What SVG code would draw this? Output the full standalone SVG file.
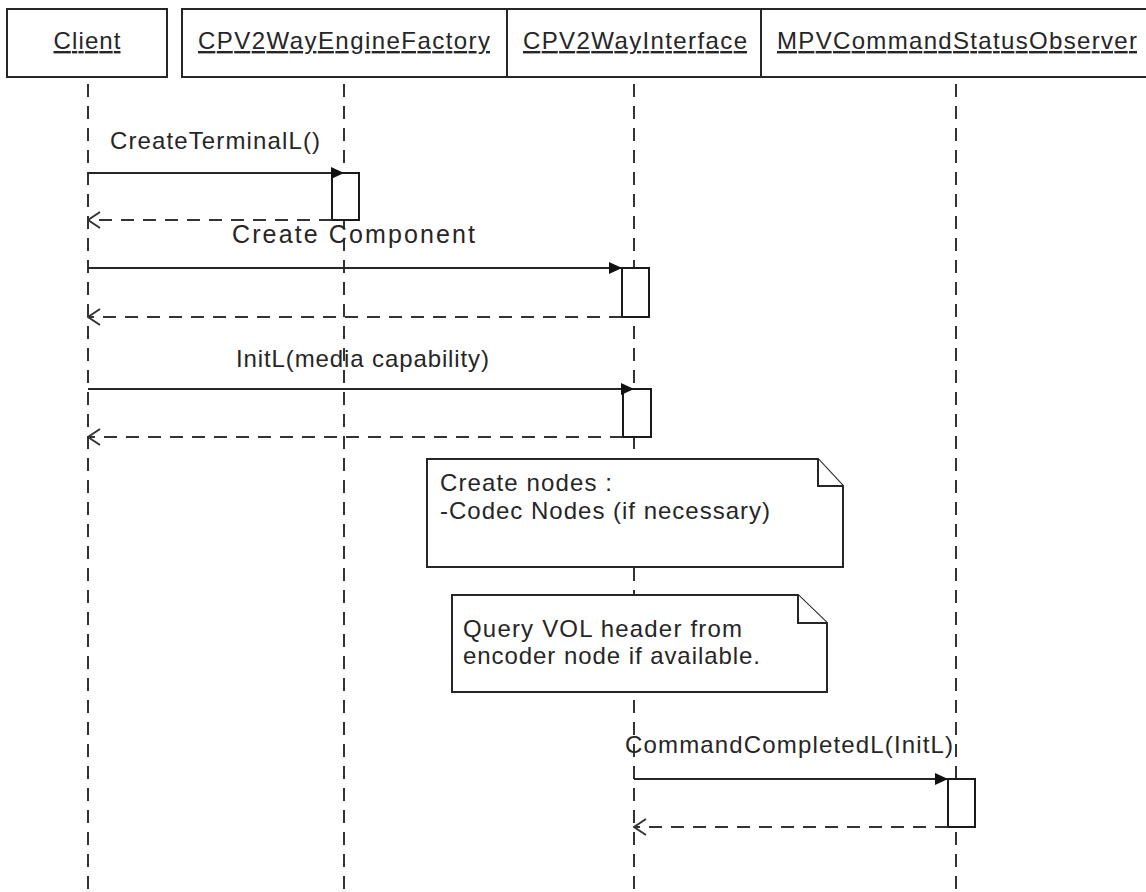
<svg xmlns="http://www.w3.org/2000/svg" width="1146" height="892" viewBox="0 0 1146 892">
<style>
text{font-family:"Liberation Sans",Arial,sans-serif;font-size:24px;fill:#262626}
.hdr{text-decoration:underline}
.box{fill:#fff;stroke:#262626;stroke-width:2}
.life{stroke:#333;stroke-width:2;stroke-dasharray:13 9;fill:none}
.msg{stroke:#262626;stroke-width:2;fill:none}
.ret{stroke:#333;stroke-width:2;stroke-dasharray:13 9;fill:none}
.act{fill:#fff;stroke:#1a1a1a;stroke-width:2}
.note{fill:#fff;stroke:#262626;stroke-width:2}
</style>
<defs>
<marker id="filled" viewBox="0 0 13 12" refX="13" refY="6" markerWidth="13" markerHeight="12" markerUnits="userSpaceOnUse" orient="auto">
<path d="M0,0 L13,6 L0,12 Z" fill="#111"/>
</marker>
<marker id="open" viewBox="0 0 14 18" refX="13" refY="9" markerWidth="14" markerHeight="18" markerUnits="userSpaceOnUse" orient="auto">
<path d="M1,1 L13,9 L1,17" fill="none" stroke="#333" stroke-width="2"/>
</marker>
</defs>
<rect width="1146" height="892" fill="#fff"/>

<g id="lifelines">
<line class="life" x1="88" y1="84" x2="88" y2="892"/>
<line class="life" x1="344" y1="84" x2="344" y2="892"/>
<line class="life" x1="634" y1="84" x2="634" y2="892"/>
<line class="life" x1="956" y1="84" x2="956" y2="892"/>
</g>

<g id="Client">
<rect class="box" x="7" y="9" width="160" height="68"/>
<text class="hdr" x="87" y="49" text-anchor="middle" textLength="67" lengthAdjust="spacing">Client</text>
</g>
<g id="CPV2WayEngineFactory">
<rect class="box" x="182" y="9" width="325" height="68"/>
<text class="hdr" x="344" y="49" text-anchor="middle" textLength="292" lengthAdjust="spacing">CPV2WayEngineFactory</text>
</g>
<g id="CPV2WayInterface">
<rect class="box" x="507" y="9" width="254" height="68"/>
<text class="hdr" x="635" y="49" text-anchor="middle" textLength="224" lengthAdjust="spacing">CPV2WayInterface</text>
</g>
<g id="MPVCommandStatusObserver">
<rect class="box" x="761" y="9" width="400" height="68"/>
<text class="hdr" x="957" y="49" text-anchor="middle" textLength="360" lengthAdjust="spacing">MPVCommandStatusObserver</text>
</g>

<g id="note1">
<path class="note" d="M427,459 H818 L843,486 V567 H427 Z"/>
<path class="note" d="M818,459 V486 H843" fill="none"/>
<text x="440" y="491" textLength="172" lengthAdjust="spacing">Create nodes :</text>
<text x="440" y="519" textLength="330" lengthAdjust="spacing">-Codec Nodes (if necessary)</text>
</g>
<g id="note2">
<path class="note" d="M452,595 H798 L827,623 V692 H452 Z"/>
<path class="note" d="M798,595 V623 H827" fill="none"/>
<text x="463" y="637" textLength="279" lengthAdjust="spacing">Query VOL header from</text>
<text x="463" y="664" textLength="297" lengthAdjust="spacing">encoder node if available.</text>
</g>

<g id="activations">
<rect class="act" x="332" y="173" width="27" height="47"/>
<rect class="act" x="622" y="268" width="27" height="49"/>
<rect class="act" x="623" y="389" width="28" height="48"/>
<rect class="act" x="948" y="779" width="27" height="48"/>
</g>

<g id="connectors">
<line class="msg" x1="88" y1="173" x2="344" y2="173" marker-end="url(#filled)"/>
<line class="ret" x1="332" y1="220" x2="88" y2="220" marker-end="url(#open)"/>
<line class="msg" x1="88" y1="268" x2="622" y2="268" marker-end="url(#filled)"/>
<line class="ret" x1="622" y1="317" x2="88" y2="317" marker-end="url(#open)"/>
<line class="msg" x1="88" y1="389" x2="634" y2="389" marker-end="url(#filled)"/>
<line class="ret" x1="623" y1="437" x2="88" y2="437" marker-end="url(#open)"/>
<line class="msg" x1="634" y1="779" x2="948" y2="779" marker-end="url(#filled)"/>
<line class="ret" x1="948" y1="827" x2="634" y2="827" marker-end="url(#open)"/>
</g>

<g id="labels">
<text x="110" y="149" textLength="210" lengthAdjust="spacing">CreateTerminalL()</text>
<text x="232" y="243" textLength="243" lengthAdjust="spacing" style="font-size:25px">Create Component</text>
<text x="236" y="367" textLength="253" lengthAdjust="spacing">InitL(media capability)</text>
<text x="625" y="753" textLength="328" lengthAdjust="spacing">CommandCompletedL(InitL)</text>
</g>
</svg>
